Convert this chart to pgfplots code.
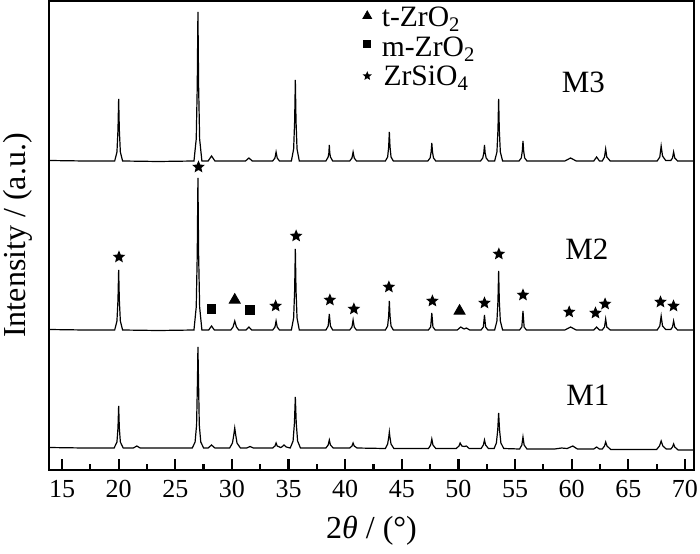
\documentclass[border=0pt]{standalone}
\usepackage{fontspec}
\setmainfont{Liberation Serif}
\usepackage{pgfplots}
\pgfplotsset{compat=1.18}

% filled five-pointed star
\pgfdeclareplotmark{fstar}{%
  \pgfpathmoveto{\pgfpointpolar{90}{\pgfplotmarksize}}%
  \pgfpathlineto{\pgfpointpolar{126}{0.45*\pgfplotmarksize}}%
  \pgfpathlineto{\pgfpointpolar{162}{\pgfplotmarksize}}%
  \pgfpathlineto{\pgfpointpolar{198}{0.45*\pgfplotmarksize}}%
  \pgfpathlineto{\pgfpointpolar{234}{\pgfplotmarksize}}%
  \pgfpathlineto{\pgfpointpolar{270}{0.45*\pgfplotmarksize}}%
  \pgfpathlineto{\pgfpointpolar{306}{\pgfplotmarksize}}%
  \pgfpathlineto{\pgfpointpolar{342}{0.45*\pgfplotmarksize}}%
  \pgfpathlineto{\pgfpointpolar{18}{\pgfplotmarksize}}%
  \pgfpathlineto{\pgfpointpolar{54}{0.45*\pgfplotmarksize}}%
  \pgfpathclose
  \pgfusepathqfill}

\tikzstyle{trace}=[black, line width=0.6pt, mark=none]

\begin{document}
\fontsize{14.8}{16}\selectfont
\begin{tikzpicture}
  \begin{axis}[%
    scale only axis,
    width=322.5pt,
    height=234.5pt,
    xmin=13.85, xmax=70.8,
    ymin=0, ymax=469,
    axis line style={line width=1.3pt},
    % x-axis
    xtick={15,20,...,70},
    minor x tick num=1,
    xtick pos=left,
    tick align=inside,
    major tick length=5.5pt,
    minor tick length=3pt,
    every tick/.style={black, line width=1.1pt},
    /pgf/number format/assume math mode=true,
    tick label style={font=\fontsize{13}{15}\selectfont},
    xlabel={2\textit{θ} / (°)},
    xlabel style={at={(axis description cs:0.5,0)}, anchor=north, yshift=-18pt,
      font=\fontsize{16}{18}\selectfont},
    % y-axis
    ytick=\empty,
    ylabel={Intensity / (a.u.)},
    ylabel style={at={(axis description cs:0,0.5)}, anchor=center, yshift=15.5pt,
      font=\fontsize{16}{18}\selectfont},
    clip=false,
    ]

    % M3
    \addplot[trace] coordinates {
      (13.85,309.5) (17,309)
      (19.65,309)(19.85,318)(19.94,340)(20.0,371)(20.06,340)(20.15,318)(20.35,309)
      (23.5,308.5)
      (26.65,309)(26.85,331)(26.94,384)(27.0,458)(27.06,384)(27.15,331)(27.35,309)
      (27.9,309)(28.2,314)(28.5,309)
      (31.2,309)(31.5,312)(31.8,309)
      (33.6,309)(33.8,312)(33.9,318)(34.0,312)(34.2,309)
      (35.25,309)(35.45,321)(35.54,349)(35.6,390)(35.66,349)(35.75,321)(35.95,309)
      (38.3,309)(38.5,313)(38.56,317)(38.6,325)(38.64,317)(38.7,313)(38.9,309)
      (40.4,309)(40.6,312)(40.7,318)(40.8,312)(41.0,309)
      (43.55,309)(43.75,313)(43.84,323)(43.9,338)(43.96,323)(44.05,313)(44.25,309)
      (47.3,309)(47.5,312)(47.59,318)(47.65,327)(47.71,318)(47.8,312)(48.0,309)
      (51.95,309)(52.15,312)(52.24,317)(52.3,325)(52.36,317)(52.45,312)(52.65,309)
      (53.2,309)(53.4,318)(53.49,340)(53.55,371)(53.61,340)(53.7,318)(53.9,309)
      (55.35,309)(55.55,312)(55.64,319)(55.7,329)(55.76,319)(55.85,312)(56.05,309)
      (59.4,309)(59.9,312)(60.4,309)
      (61.95,309)(62.2,313)(62.45,309)
      (62.7,309)(62.9,313)(63.0,321)(63.1,313)(63.4,309)
      (67.55,309)(67.78,313)(67.9,324)(68.02,314)(68.3,309.5)
      (68.75,309.5)(68.9,312)(69.0,318)(69.1,312)(69.35,309)
      (70.8,309)
    };

    % M2
    \addplot[trace] coordinates {
      (13.85,140.5) (17,140)
      (19.65,140)(19.85,149)(19.94,170)(20.0,200)(20.06,170)(20.15,149)(20.35,140)
      (23.5,139.5)
      (26.65,140)(26.85,163)(26.94,216)(27.0,292)(27.06,216)(27.15,163)(27.35,140)
      (27.95,140)(28.2,144)(28.45,140)
      (29.9,140)(30.1,143)(30.25,149)(30.4,143)(30.6,140)
      (31.25,140)(31.5,143)(31.75,140)
      (33.6,140)(33.8,143)(33.9,149)(34.0,143)(34.2,140)
      (35.25,140)(35.45,152)(35.54,180)(35.6,221)(35.66,180)(35.75,152)(35.95,140)
      (38.3,140)(38.5,144)(38.6,156)(38.7,144)(38.9,140)
      (40.4,140)(40.6,143)(40.7,150)(40.8,143)(41.0,140)
      (43.55,140)(43.75,144)(43.84,154)(43.9,169)(43.96,154)(44.05,144)(44.25,140)
      (47.35,140)(47.55,143)(47.65,157)(47.75,143)(47.95,140)
      (49.9,140)(50.2,143)(50.5,141)(50.7,142)(51.0,140)
      (52.0,140)(52.2,143)(52.3,155)(52.4,143)(52.6,140)
      (53.2,140)(53.4,149)(53.49,169)(53.55,199)(53.61,169)(53.7,149)(53.9,140)
      (55.4,140)(55.6,143)(55.7,159)(55.8,143)(56.0,140)
      (59.4,140)(59.9,143)(60.4,140)
      (61.95,140)(62.2,143)(62.45,140)
      (62.7,140)(62.9,143)(63.0,151)(63.1,143)(63.4,140)
      (67.55,140)(67.78,144)(67.9,154)(68.02,144)(68.3,140.5)
      (68.75,140.5)(68.9,143)(69.0,149)(69.1,143)(69.35,140)
      (70.8,140)
    };

    % M1
    \addplot[trace] coordinates {
      (13.85,22.5) (17,22)
      (19.6,22)(19.85,28)(19.94,42)(20.0,64)(20.06,42)(20.15,28)(20.4,22)
      (21.3,22)(21.6,24)(21.9,22)
      (26.5,22)(26.75,28)(26.88,45)(26.96,90)(27.0,123)(27.05,90)(27.12,45)(27.25,28)(27.5,22)
      (27.9,22)(28.2,25)(28.5,22)
      (29.8,22)(30.05,27)(30.15,34)(30.25,42)(30.35,34)(30.45,27)(30.75,22)
      (31.3,22)(31.6,23.5)(31.9,22)
      (33.6,22)(33.8,24)(33.9,27)(34.0,24)(34.3,22.5)
      (34.4,23)(34.6,25)(34.8,23)
      (35.15,22)(35.4,29)(35.52,47)(35.6,73)(35.68,47)(35.8,29)(36.05,22)
      (38.3,22)(38.5,25)(38.6,30)(38.7,25)(38.95,22)
      (40.4,22)(40.6,24)(40.7,27)(40.8,24)(41.05,22)
      (43.55,21.5)(43.75,26)(43.85,33)(43.9,38)(43.95,33)(44.05,26)(44.3,21.5)
      (47.35,21.5)(47.55,25)(47.65,31)(47.75,25)(48.0,21.5)
      (49.8,21.5)(50.05,24)(50.15,27)(50.3,24)(50.5,23.5)(50.7,24)(50.95,21.5)
      (52.0,21.5)(52.2,25)(52.3,30)(52.4,25)(52.65,21.5)
      (53.15,21.5)(53.35,27)(53.47,40)(53.55,57)(53.63,40)(53.75,27)(54.0,21.5)
      (55.4,21)(55.6,25)(55.7,33)(55.8,25)(56.05,21)
      (58.5,21)(59.1,22)(59.6,21.5)(60.1,24)(60.5,21)
      (61.95,21)(62.2,23)(62.45,21)
      (62.7,21)(62.9,24)(63.0,28)(63.12,24)(63.45,20.5)
      (65.5,20.5)
      (67.5,20.5)(67.75,24)(67.9,29)(68.05,24)(68.35,21)
      (68.75,21)(68.9,23)(69.0,26)(69.1,23)(69.4,20)
      (70.8,20)
    };

    % phase markers on M2
    \addplot[only marks, mark=fstar, mark size=3.3pt, fill=black, draw=black] coordinates {
      (20.03,213) (27.05,303) (33.86,164) (35.67,234) (38.65,170) (40.77,161)
      (43.86,183) (47.7,169) (52.3,167) (53.57,216) (55.7,175) (59.78,158)
      (62.1,157) (62.95,166) (67.84,168) (68.99,164)
    };
    \addplot[only marks, mark=square*, mark size=2.1pt, fill=black, draw=black] coordinates {
      (28.2,161) (31.6,160)
    };
    \addplot[only marks, mark=triangle*, mark size=3.2pt, fill=black, draw=black] coordinates {
      (30.25,170) (50.1,159)
    };

    % legend
    \addplot[only marks, mark=triangle*, mark size=2.5pt, fill=black, draw=black] coordinates {(41.95,454)};
    \addplot[only marks, mark=square*, mark size=1.8pt, fill=black, draw=black] coordinates {(41.95,426)};
    \addplot[only marks, mark=fstar, mark size=2.4pt, fill=black, draw=black] coordinates {(41.95,394)};
    \node[anchor=base west, inner sep=0pt] at (axis cs:43.2,443) {t-ZrO\textsubscript{2}};
    \node[anchor=base west, inner sep=0pt] at (axis cs:43.2,413) {m-ZrO\textsubscript{2}};
    \node[anchor=base west, inner sep=0pt] at (axis cs:43.35,384) {ZrSiO\textsubscript{4}};

    % sample labels
    \node[anchor=base west, inner sep=0pt, font=\fontsize{15.5}{17}\selectfont] at (axis cs:59.1,377) {M3};
    \node[anchor=base west, inner sep=0pt, font=\fontsize{15.5}{17}\selectfont] at (axis cs:59.4,210) {M2};
    \node[anchor=base west, inner sep=0pt, font=\fontsize{15.5}{17}\selectfont] at (axis cs:59.5,65) {M1};
  \end{axis}
  \pgfresetboundingbox
  \path[use as bounding box] (-24.5pt,-41.5pt) rectangle (325.5pt,235pt);
\end{tikzpicture}
\end{document}
